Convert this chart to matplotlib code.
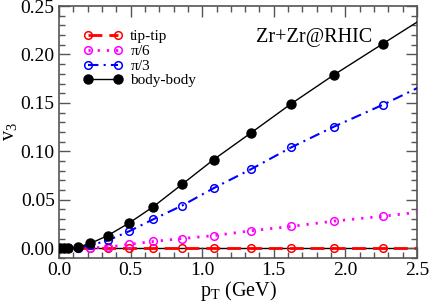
import matplotlib
matplotlib.use("Agg")
import matplotlib.pyplot as plt
from matplotlib.ticker import MultipleLocator, FormatStrFormatter

pt = [0.01, 0.035, 0.06, 0.13, 0.22, 0.34, 0.49, 0.66, 0.86, 1.08, 1.34, 1.62, 1.92, 2.26, 2.65]
tip_tip = [0, 0, 0, 0, 0, 0, 0, 0, 0, 0, 0, 0, 0, 0, 0]
pi6 = [0, 0, 0, 0, 0.0005, 0.001, 0.004, 0.007, 0.010, 0.013, 0.018, 0.0225, 0.028, 0.033, 0.0395]
pi3 = [0, 0, 0, 0.0005, 0.003, 0.008, 0.0175, 0.030, 0.044, 0.062, 0.0815, 0.104, 0.1255, 0.148, 0.176]
body_body = [0, 0, 0, 0.001, 0.005, 0.013, 0.026, 0.043, 0.066, 0.0915, 0.119, 0.149, 0.179, 0.211, 0.2475]

plt.rcParams['font.family'] = ['Liberation Serif', 'DejaVu Serif']
plt.rcParams['mathtext.fontset'] = 'custom'
plt.rcParams['mathtext.rm'] = 'Liberation Serif'
plt.rcParams['mathtext.it'] = 'Liberation Serif'

fig = plt.figure(figsize=(4.3, 3.02), dpi=100)
ax = fig.add_axes([0.137, 0.146, 0.833, 0.834])

ax.axhline(0, color='black', lw=1.0, zorder=1)
ax.plot(pt, tip_tip, color='red', ls=(0, (5, 2.5)), lw=2, marker='o', mfc='none',
        mec='red', ms=5.5, mew=1.1, label='tip-tip', zorder=2)
ax.plot(pt, pi6, color='magenta', ls=(0, (0.8, 2.5)), lw=2, marker='o', mfc='none',
        mec='magenta', ms=5.5, mew=1.1, label=r'$\pi$/6', zorder=3)
ax.plot(pt, pi3, color='blue', ls=(0, (5, 2.5, 1, 2.5)), lw=1.5, marker='o', mfc='none',
        mec='blue', ms=5.5, mew=1.1, label=r'$\pi$/3', zorder=4)
ax.plot(pt, body_body, color='black', ls='-', lw=1.0, marker='o', mfc='black',
        mec='black', ms=6.5, label='body-body', zorder=5)

ax.set_xlim(0, 2.5)
ax.set_ylim(-0.01, 0.25)
ax.xaxis.set_major_locator(MultipleLocator(0.5))
ax.xaxis.set_minor_locator(MultipleLocator(0.1))
ax.yaxis.set_major_locator(MultipleLocator(0.05))
ax.yaxis.set_minor_locator(MultipleLocator(0.01))
ax.tick_params(which='both', direction='in', top=True, right=True, labelsize=14, color='#555555')
ax.tick_params(which='major', length=8, width=1, pad=3)
ax.tick_params(which='minor', length=4, width=1)
ax.xaxis.set_major_formatter(FormatStrFormatter('%.1f'))
ax.yaxis.set_major_formatter(FormatStrFormatter('%.2f'))
for s in ax.spines.values():
    s.set_color('#555555')
    s.set_linewidth(1.2)

ax.set_xlabel(r'p$_{\rm T}$ (GeV)', fontsize=14.5, labelpad=0)
ax.set_ylabel(r'v$_{3}$', fontsize=14.5, labelpad=1)
ax.text(1.78, 0.218, 'Zr+Zr@RHIC', fontsize=14.5, ha='center', va='center')

leg = ax.legend(loc='upper left', bbox_to_anchor=(0.05, 0.93), frameon=False, fontsize=11,
                numpoints=2, handlelength=2.6, handletextpad=0.5, labelspacing=0.05,
                borderaxespad=0)

fig.savefig('out.png', dpi=100)
